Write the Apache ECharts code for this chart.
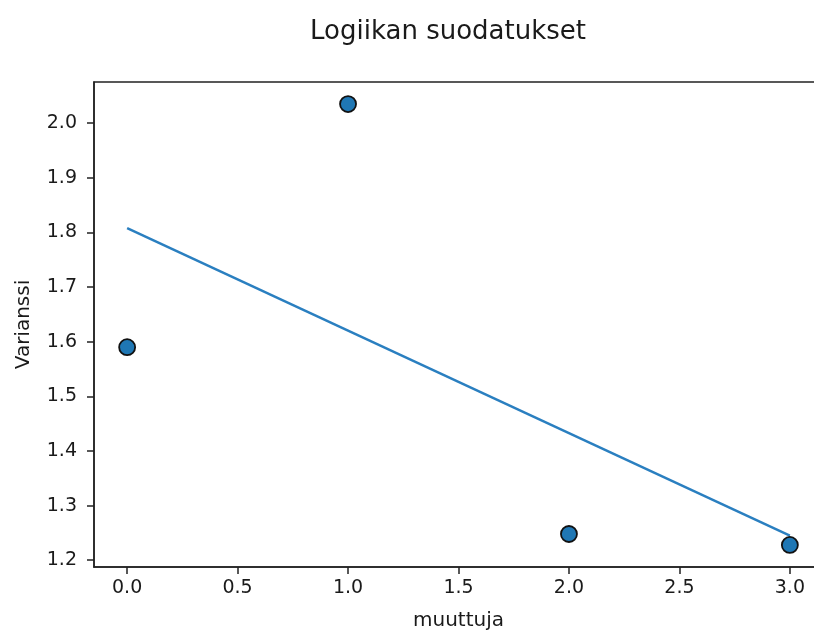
<!DOCTYPE html>
<html>
<head>
<meta charset="utf-8">
<script src="https://cdn.jsdelivr.net/npm/echarts@6/dist/echarts.min.js"></script>
<style>
html,body{margin:0;padding:0;background:#fff;}
#chart{width:814px;height:632px;}
</style>
</head>
<body>
<div id="chart"></div>
<script>
// Data
const pointX = [0, 1, 2, 3];
const pointY = [1.59, 2.035, 1.248, 1.228];
const trendX = [0, 3];
const trendY = [1.808, 1.245];
const xTicks = [0, 0.5, 1, 1.5, 2, 2.5, 3];
const yTicks = [1.2, 1.3, 1.4, 1.5, 1.6, 1.7, 1.8, 1.9, 2.0];

const FONT = 'DejaVu Sans';
const TXT = '#1a1a1a';

const chart = echarts.init(document.getElementById('chart'));
chart.setOption({
  animation: false,
  backgroundColor: '#ffffff',
  title: {
    text: 'Logiikan suodatukset',
    left: 305,
    top: 14,
    textStyle: {fontFamily: FONT, fontSize: 26, fontWeight: 'normal', color: TXT}
  },
  grid: {
    left: 94, top: 82, width: 729, bottom: 65,
    outerBoundsMode: 'none',
    containLabel: false,
    show: true, borderColor: '#222', borderWidth: 1.5, backgroundColor: 'transparent'
  },
  xAxis: {
    type: 'value',
    min: -0.15, max: 3.15,
    name: 'muuttuja',
    nameLocation: 'middle',
    nameGap: 44,
    nameTextStyle: {fontFamily: FONT, fontSize: 20, color: TXT},
    axisLine: {show: true, onZero: false, lineStyle: {color: '#222', width: 1.5}},
    axisTick: {show: true, length: 7, customValues: xTicks, lineStyle: {color: '#222', width: 1.5}},
    axisLabel: {show: true, margin: 12, customValues: xTicks, fontFamily: FONT, fontSize: 19, color: TXT,
      formatter: v => v.toFixed(1)},
    splitLine: {show: false}
  },
  yAxis: {
    type: 'value',
    min: 1.1876, max: 2.0754,
    name: 'Varianssi',
    nameLocation: 'middle',
    nameGap: 60,
    nameTextStyle: {fontFamily: FONT, fontSize: 20, color: TXT},
    axisLine: {show: true, onZero: false, lineStyle: {color: '#222', width: 1.5}},
    axisTick: {show: true, length: 7, customValues: yTicks, lineStyle: {color: '#222', width: 1.5}},
    axisLabel: {show: true, margin: 17, customValues: yTicks, fontFamily: FONT, fontSize: 19, color: TXT,
      formatter: v => v.toFixed(1)},
    splitLine: {show: false}
  },
  series: [
    {
      type: 'line',
      data: trendX.map((x, i) => [x, trendY[i]]),
      showSymbol: false,
      symbol: 'none',
      lineStyle: {color: '#2a7fc0', width: 2.5},
      z: 2
    },
    {
      type: 'scatter',
      data: pointX.map((x, i) => [x, pointY[i]]),
      symbol: 'circle',
      symbolSize: 16,
      itemStyle: {color: '#1f77b4', borderColor: '#111', borderWidth: 1.8, opacity: 1},
      z: 3
    }
  ]
});
</script>
</body>
</html>
